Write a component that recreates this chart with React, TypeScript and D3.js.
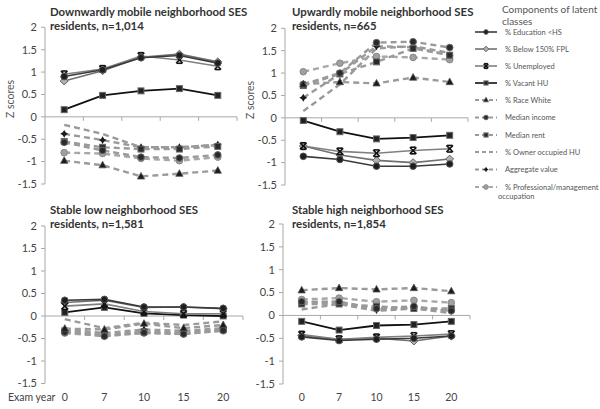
import React from "react";
import * as d3 from "d3";

const examYears = ["0", "7", "10", "15", "20"];
const yTicks = [2, 1.5, 1, 0.5, 0, -0.5, -1, -1.5];
const seriesNames = [
  "% Education <HS",
  "% Below 150% FPL",
  "% Unemployed",
  "% Vacant HU",
  "% Race White",
  "Median income",
  "Median rent",
  "% Owner occupied HU",
  "Aggregate value",
  "% Professional/management",
];

// values per series (same order as seriesNames)
const downwardValues = [
  [0.9, 1.05, 1.32, 1.37, 1.2],
  [0.8, 1.03, 1.33, 1.4, 1.23],
  [0.95, 1.07, 1.36, 1.27, 1.13],
  [0.16, 0.48, 0.58, 0.63, 0.48],
  [-0.98, -1.08, -1.33, -1.27, -1.2],
  [-0.57, -0.75, -0.9, -0.92, -0.85],
  [-0.55, -0.68, -0.72, -0.72, -0.66],
  [-0.18, -0.38, -0.68, -0.68, -0.63],
  [-0.38, -0.52, -0.68, -0.68, -0.62],
  [-0.8, -0.82, -0.93, -0.98, -0.9],
];
const upwardValues = [
  [-0.86, -0.93, -1.08, -1.08, -1.03],
  [-0.63, -0.83, -0.95, -1.0, -0.92],
  [-0.63, -0.75, -0.79, -0.73, -0.69],
  [-0.06, -0.31, -0.47, -0.44, -0.39],
  [0.75, 0.8, 0.77, 0.9, 0.8],
  [0.75, 1.0, 1.68, 1.7, 1.57],
  [0.72, 0.98, 1.25, 1.55, 1.4],
  [0.15, 0.75, 1.55, 1.6, 1.45],
  [0.45, 0.98, 1.6, 1.58, 1.4],
  [1.03, 1.22, 1.37, 1.35, 1.3],
];
const stableLowValues = [
  [0.35, 0.37, 0.2, 0.2, 0.17],
  [0.3, 0.35, 0.19, 0.2, 0.16],
  [0.22, 0.27, 0.1, 0.05, 0.05],
  [0.08, 0.19, 0.06, 0.02, 0.0],
  [-0.28, -0.3, -0.17, -0.27, -0.2],
  [-0.36, -0.45, -0.37, -0.4, -0.32],
  [-0.33, -0.42, -0.35, -0.37, -0.3],
  [-0.07, -0.27, -0.15, -0.2, -0.12],
  [-0.3, -0.38, -0.3, -0.33, -0.27],
  [-0.38, -0.44, -0.38, -0.4, -0.33],
];
const stableHighValues = [
  [-0.47, -0.55, -0.52, -0.5, -0.45],
  [-0.44, -0.53, -0.5, -0.56, -0.45],
  [-0.42, -0.52, -0.48, -0.45, -0.41],
  [-0.13, -0.32, -0.22, -0.2, -0.13],
  [0.55, 0.6, 0.57, 0.6, 0.53],
  [0.3, 0.3, 0.15, 0.2, 0.1],
  [0.25, 0.25, 0.2, 0.15, 0.15],
  [0.13, 0.25, 0.1, 0.15, 0.05],
  [0.28, 0.3, 0.12, 0.17, 0.1],
  [0.35, 0.38, 0.3, 0.33, 0.28],
];

type MarkerKind = "circle" | "diamond" | "xstar" | "square" | "triangle" | "plus" | "none";
interface Style { dashed: boolean; stroke: string; width: number; marker: MarkerKind; fill: string; mstroke: string; }
const styles: Style[] = [
  { dashed: false, stroke: "#3a3a3a", width: 1.6, marker: "circle", fill: "#1e1e1e", mstroke: "#555" },
  { dashed: false, stroke: "#707070", width: 1.6, marker: "diamond", fill: "#b0b0b0", mstroke: "#666" },
  { dashed: false, stroke: "#808080", width: 1.6, marker: "xstar", fill: "#111", mstroke: "#111" },
  { dashed: false, stroke: "#111", width: 1.8, marker: "square", fill: "#222", mstroke: "#666" },
  { dashed: true, stroke: "#9a9a9a", width: 2.4, marker: "triangle", fill: "#1a1a1a", mstroke: "#555" },
  { dashed: true, stroke: "#9a9a9a", width: 2.4, marker: "circle", fill: "#2a2a2a", mstroke: "#666" },
  { dashed: true, stroke: "#9a9a9a", width: 2.4, marker: "square", fill: "#2a2a2a", mstroke: "#666" },
  { dashed: true, stroke: "#9a9a9a", width: 2.4, marker: "none", fill: "none", mstroke: "none" },
  { dashed: true, stroke: "#9a9a9a", width: 2.4, marker: "plus", fill: "#1a1a1a", mstroke: "#1a1a1a" },
  { dashed: true, stroke: "#a8a8a8", width: 2.4, marker: "circle", fill: "#a0a0a0", mstroke: "#888" },
];

function Marker({ kind, x, y, s, fill, stroke }: { kind: MarkerKind; x: number; y: number; s: number; fill: string; stroke: string }) {
  switch (kind) {
    case "circle":
      return <circle cx={x} cy={y} r={s} fill={fill} stroke={stroke} strokeWidth={1} />;
    case "square":
      return <rect x={x - s * 0.9} y={y - s * 0.9} width={s * 1.8} height={s * 1.8} fill={fill} stroke={stroke} strokeWidth={1} />;
    case "diamond":
      return <path d={`M${x},${y - s * 1.2}L${x + s * 1.2},${y}L${x},${y + s * 1.2}L${x - s * 1.2},${y}Z`} fill={fill} stroke={stroke} strokeWidth={1} />;
    case "triangle":
      return <path d={`M${x},${y - s * 1.2}L${x + s * 1.1},${y + s * 0.8}L${x - s * 1.1},${y + s * 0.8}Z`} fill={fill} stroke={stroke} strokeWidth={0.8} />;
    case "xstar":
      return (
        <g stroke={stroke} strokeWidth={1.6}>
          <line x1={x - s} y1={y - s} x2={x + s} y2={y + s} />
          <line x1={x - s} y1={y + s} x2={x + s} y2={y - s} />
          <line x1={x - s * 0.8} y1={y - s} x2={x + s * 0.8} y2={y - s} />
          <line x1={x - s * 0.8} y1={y + s} x2={x + s * 0.8} y2={y + s} />
        </g>
      );
    case "plus":
      return (
        <g fill={fill}>
          <path d={`M${x},${y - s * 1.2}L${x + s * 0.45},${y - s * 0.45}L${x + s * 1.2},${y}L${x + s * 0.45},${y + s * 0.45}L${x},${y + s * 1.2}L${x - s * 0.45},${y + s * 0.45}L${x - s * 1.2},${y}L${x - s * 0.45},${y - s * 0.45}Z`} />
        </g>
      );
    default:
      return null;
  }
}

interface PanelProps {
  title: string[];
  values: number[][];
  x0: number; x1: number; yTop: number; yBottom: number;
  showX: boolean; showYTitle: boolean; tx: number; ty: number;
}

function Panel({ title, values, x0, x1, yTop, yBottom, showX, showYTitle, tx, ty }: PanelProps) {
  const x = d3.scaleBand<string>().domain(examYears).range([x0, x1]);
  const y = d3.scaleLinear().domain([-1.5, 2]).range([yBottom, yTop]);
  const line = d3.line<number>().x((_, i) => (x(examYears[i]) as number) + x.bandwidth() / 2).y((d) => y(d));
  const axisColor = "#a8a8a8";
  const font = "Lato, 'Open Sans', sans-serif";
  const order = [7, 9, 8, 6, 5, 4, 3, 1, 2, 0];
  return (
    <g>
      {title.map((t, i) => (
        <text key={i} x={tx} y={ty + i * 14} fontFamily={font} fontWeight={700} fontSize={11.4} fill="#333">{t}</text>
      ))}
      {showYTitle && (
        <text transform={`translate(${x0 - 31},${y(0.4)}) rotate(-90)`} textAnchor="middle" fontFamily={font} fontSize={10.5} fill="#555">Z scores</text>
      )}
      <line x1={x0} x2={x0} y1={y(2)} y2={y(-1.5)} stroke={axisColor} strokeWidth={1} />
      {yTicks.map((t) => (
        <g key={t}>
          <line x1={x0 - 4} x2={x0} y1={y(t)} y2={y(t)} stroke={axisColor} />
          <text x={x0 - 8} y={y(t)} dy="0.35em" textAnchor="end" fontFamily={font} fontSize={11} fill="#444">{t}</text>
        </g>
      ))}
      <line x1={x0} x2={x1} y1={y(0)} y2={y(0)} stroke={axisColor} strokeWidth={1} />
      {examYears.map((c) => (
        <line key={c} x1={(x(c) as number) + x.bandwidth()} x2={(x(c) as number) + x.bandwidth()} y1={y(0)} y2={y(0) + 4} stroke={axisColor} />
      ))}
      {showX && examYears.map((c) => (
        <text key={c} x={(x(c) as number) + x.bandwidth() / 2} y={397} dy="0.35em" textAnchor="middle" fontFamily={font} fontSize={10.5} fill="#444">{c}</text>
      ))}
      {order.map((si) => {
        const st = styles[si];
        return (
          <g key={si}>
            <path d={line(values[si]) || ""} fill="none" stroke={st.stroke} strokeWidth={st.width} strokeDasharray={st.dashed ? "6,4" : undefined} />
            {values[si].map((v, i) => (
              <Marker key={i} kind={st.marker} x={(x(examYears[i]) as number) + x.bandwidth() / 2} y={y(v)} s={3.3} fill={st.fill} stroke={st.mstroke} />
            ))}
          </g>
        );
      })}
    </g>
  );
}

export default function App() {
  const font = "Lato, 'Open Sans', sans-serif";
  const legendY = [32, 49, 66, 83, 100, 117.5, 135, 152, 169.5, 187];
  return (
    <svg width={600} height={409} style={{ position: "absolute", left: 0, top: 0, background: "#fff" }}>
      <Panel title={["Downwardly mobile neighborhood SES", "residents, n=1,014"]} values={downwardValues} x0={45} x1={237} yTop={27.3} yBottom={184} showX={false} showYTitle={true} tx={50} ty={16} />
      <Panel title={["Upwardly mobile neighborhood SES", "residents, n=665"]} values={upwardValues} x0={285} x1={468} yTop={28.3} yBottom={185} showX={false} showYTitle={true} tx={292} ty={16} />
      <Panel title={["Stable low neighborhood SES", "residents, n=1,581"]} values={stableLowValues} x0={45} x1={243} yTop={226} yBottom={383.5} showX={true} showYTitle={false} tx={50} ty={214} />
      <Panel title={["Stable high neighborhood SES", "residents, n=1,854"]} values={stableHighValues} x0={283} x1={470} yTop={224} yBottom={384} showX={true} showYTitle={false} tx={292} ty={214} />
      <text x={8} y={397} dy="0.35em" fontFamily={font} fontSize={10.5} fill="#444">Exam year</text>
      <text x={502} y={13} fontFamily={font} fontSize={10} fill="#555">Components of latent</text>
      <text x={502} y={25} fontFamily={font} fontSize={10} fill="#555">classes</text>
      {seriesNames.map((n, i) => {
        const st = styles[i];
        const ly = legendY[i];
        return (
          <g key={n}>
            <line x1={475} x2={497} y1={ly} y2={ly} stroke={st.stroke} strokeWidth={st.dashed ? 2 : 1.6} strokeDasharray={st.dashed ? "4,3" : undefined} />
            <Marker kind={st.marker} x={486} y={ly} s={2.3} fill={st.fill} stroke={st.mstroke} />
            <text x={505} y={ly} dy="0.35em" fontFamily={font} fontSize={7.5} fill="#555">{n}</text>
          </g>
        );
      })}
      <text x={498} y={196} dy="0.35em" fontFamily={font} fontSize={7.5} fill="#555">occupation</text>
    </svg>
  );
}
